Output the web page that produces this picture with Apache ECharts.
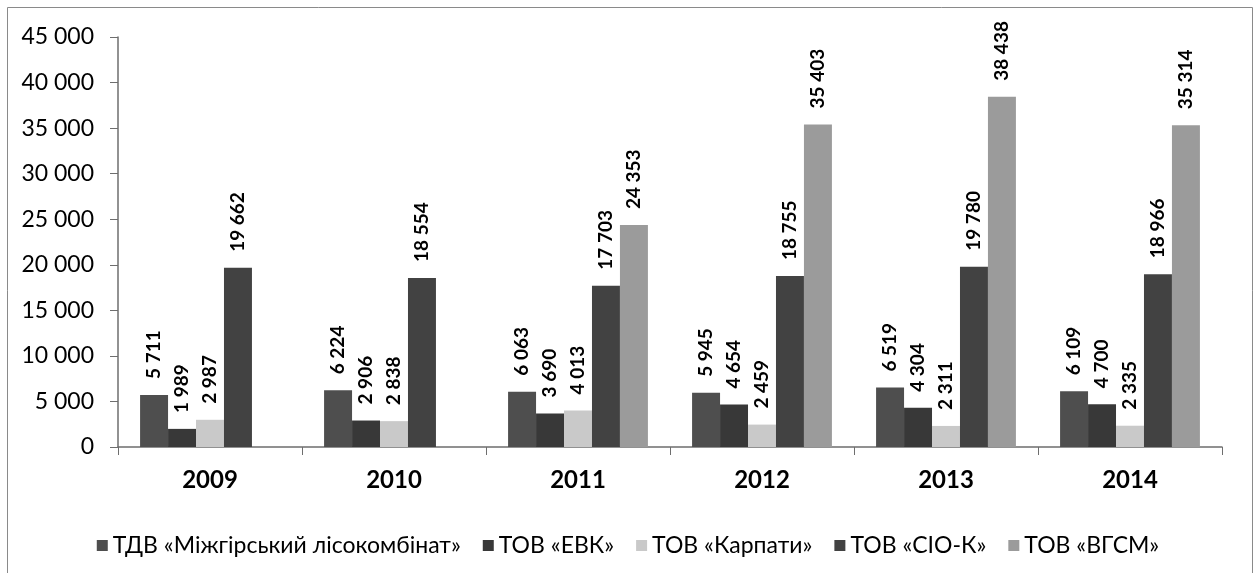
<!DOCTYPE html>
<html>
<head>
<meta charset="utf-8">
<script src="https://cdn.jsdelivr.net/npm/echarts@6/dist/echarts.min.js"></script>
<style>
  html, body { margin: 0; padding: 0; background: #fff; }
  #chart { width: 1256px; height: 573px; }
</style>
</head>
<body>
<div id="chart"></div>
<script>
// years on the category axis
const years = ['2009', '2010', '2011', '2012', '2013', '2014']

// values per company
const mizhhirskyi = [5711, 6224, 6063, 5945, 6519, 6109]
const evk = [1989, 2906, 3690, 4654, 4304, 4700]
const karpaty = [2987, 2838, 4013, 2459, 2311, 2335]
const sioK = [19662, 18554, 17703, 18755, 19780, 18966]
const vgsm = [null, null, 24353, 35403, 38438, 35314]

const seriesNames = [
  'ТДВ «Міжгірський лісокомбінат»',
  'ТОВ «ЕВК»',
  'ТОВ «Карпати»',
  'ТОВ «СІО-К»',
  'ТОВ «ВГСМ»',
]
const seriesData = [mizhhirskyi, evk, karpaty, sioK, vgsm]
const seriesColors = ['#4e4e4e', '#383838', '#c9c9c9', '#424242', '#9b9b9b']

const fontFamily = 'Lato, "Noto Sans", sans-serif'

// 12345 -> "12 345"
const fmt = (v) => String(v).replace(/\B(?=(\d{3})+(?!\d))/g, ' ')

const chart = echarts.init(document.getElementById('chart'))

chart.setOption({
  animation: false,
  backgroundColor: '#fff',
  textStyle: { fontFamily },
  graphic: [
    {
      type: 'rect',
      shape: { x: 7.5, y: 7.5, width: 1245, height: 570 },
      style: { fill: 'none', stroke: '#8a8a8a', lineWidth: 1 },
      silent: true,
    },
  ],
  grid: {
    left: 118,
    right: 34,
    top: 37,
    bottom: 126,
  },
  legend: {
    bottom: 11,
    left: 'center',
    itemWidth: 11,
    itemHeight: 11,
    itemGap: 22,
    icon: 'rect',
    textStyle: {
      color: '#000',
      fontSize: 23,
      fontFamily,
    },
    data: seriesNames,
  },
  xAxis: {
    type: 'category',
    data: years,
    axisLine: { lineStyle: { color: '#6e6e6e', width: 1.5 } },
    axisTick: { show: true, length: 8, lineStyle: { color: '#6e6e6e' } },
    axisLabel: {
      color: '#000',
      fontSize: 24,
      fontWeight: 'bold',
      margin: 21,
      fontFamily,
    },
  },
  yAxis: {
    type: 'value',
    min: 0,
    max: 45000,
    interval: 5000,
    axisLine: { show: true, lineStyle: { color: '#6e6e6e', width: 1.5 } },
    axisTick: { show: true, length: 8, lineStyle: { color: '#6e6e6e' } },
    splitLine: { show: false },
    axisLabel: {
      color: '#000',
      fontSize: 23,
      margin: 24,
      fontFamily,
      formatter: (v) => fmt(v),
    },
  },
  series: seriesNames.map((name, i) => ({
    name,
    type: 'bar',
    data: seriesData[i],
    barGap: '0%',
    barCategoryGap: '24%',
    itemStyle: { color: seriesColors[i] },
    label: {
      show: true,
      position: 'top',
      rotate: 90,
      align: 'left',
      verticalAlign: 'middle',
      distance: 16,
      color: '#000',
      fontSize: 19,
      fontWeight: 'bold',
      fontFamily,
      formatter: (p) => fmt(p.value),
    },
  })),
})
</script>
</body>
</html>
